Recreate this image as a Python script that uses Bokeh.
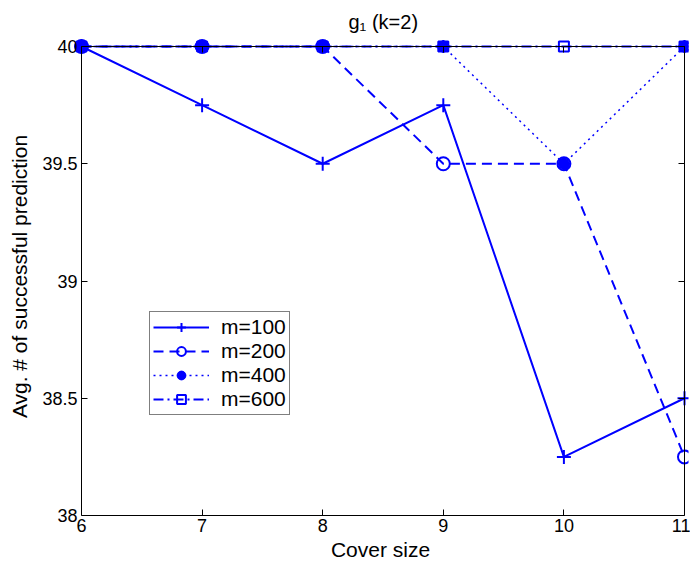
from bokeh.plotting import figure
from bokeh.models import LinearAxis, FixedTicker, Legend, LegendItem, Range1d
from bokeh.embed import file_html
from bokeh.resources import INLINE

cover_size = [6, 7, 8, 9, 10, 11]
m100 = [40, 39.75, 39.5, 39.75, 38.25, 38.5]
m200 = [40, 40, 40, 39.5, 39.5, 38.25]
m400 = [40, 40, 40, 40, 39.5, 40]
m600 = [40, 40, 40, 40, 40, 40]
x_ticks = [6, 7, 8, 9, 10, 11]
y_ticks = [38, 38.5, 39, 39.5, 40]
y_tick_labels = ["38", "38.5", "39", "39.5", "40"]
title_text = "g\u2081 (k=2)"

FONT = "Liberation Sans"
BLUE = "#0000ff"

# axes box in pixels and padding so that edge markers are not clipped
BOX_L, BOX_R, BOX_T, BOX_B = 81, 684, 46, 515
PAD_L, PAD_R, PAD_T = 9, 4, 9
TITLE_LEFT = 348
W, H = 690, 566
xmin, xmax = x_ticks[0], x_ticks[-1]
ymin, ymax = y_ticks[0], y_ticks[-1]
xpx = (BOX_R - BOX_L) / (xmax - xmin)
ypx = (BOX_B - BOX_T) / (ymax - ymin)

p = figure(width=W, height=H, output_backend="svg", toolbar_location=None,
           x_axis_location=None, y_axis_location=None,
           x_range=Range1d(xmin - PAD_L / xpx, xmax + PAD_R / xpx),
           y_range=Range1d(ymin, ymax + PAD_T / ypx),
           min_border_left=BOX_L - PAD_L, min_border_right=W - BOX_R - PAD_R,
           min_border_top=BOX_T - PAD_T, min_border_bottom=H - BOX_B)
p.title.text = title_text
p.title.align = "left"
p.title.offset = TITLE_LEFT - (BOX_L - PAD_L)
p.title.text_font = FONT
p.title.text_font_size = "20px"
p.title.text_font_style = "normal"
p.title.text_color = "black"
p.title.standoff = 10

p.xgrid.visible = False
p.ygrid.visible = False
p.outline_line_color = None
p.background_fill_color = "white"
p.border_fill_color = "white"


def style(ax):
    ax.axis_line_color = "black"
    ax.axis_line_width = 1
    ax.major_tick_in = 6
    ax.major_tick_out = 0
    ax.minor_tick_line_color = None
    ax.major_tick_line_color = "black"
    ax.major_label_text_font = FONT
    ax.major_label_text_font_size = "18px"
    ax.major_label_text_color = "black"
    ax.axis_label_text_font = FONT
    ax.axis_label_text_font_size = "21px"
    ax.axis_label_text_font_style = "normal"
    ax.axis_label_text_color = "black"
    ax.major_label_standoff = 3
    ax.axis_label_standoff = 3


def hide_labels(ax):
    ax.major_label_text_font_size = "1px"
    ax.major_label_text_color = None
    ax.major_label_standoff = 0
    ax.axis_label_standoff = 0


xaxis = LinearAxis(ticker=FixedTicker(ticks=x_ticks), bounds=(xmin, xmax), axis_label="Cover size")
style(xaxis)
p.add_layout(xaxis, "below")

# left: line and ticks at x = 6
yline = LinearAxis(ticker=FixedTicker(ticks=y_ticks), bounds=(ymin, ymax), fixed_location=xmin)
style(yline)
hide_labels(yline)
p.add_layout(yline, "left")

# left: tick labels and axis title
ylab = LinearAxis(ticker=FixedTicker(ticks=y_ticks), axis_label="Avg. # of successful prediction")
style(ylab)
ylab.axis_line_color = None
ylab.major_tick_line_color = None
ylab.major_tick_in = 0
ylab.major_label_standoff = -5
ylab.axis_label_standoff = 8
ylab.major_label_overrides = {t: l for t, l in zip(y_ticks, y_tick_labels)}
p.add_layout(ylab, "left")

top = LinearAxis(ticker=FixedTicker(ticks=x_ticks), bounds=(xmin, xmax), fixed_location=ymax)
right = LinearAxis(ticker=FixedTicker(ticks=y_ticks), bounds=(ymin, ymax), fixed_location=xmax)
for ax in (top, right):
    style(ax)
    hide_labels(ax)
p.add_layout(top, "above")
p.add_layout(right, "right")

items = []
l1 = p.line(cover_size, m100, line_color=BLUE, line_width=2)
g1 = p.scatter(cover_size, m100, marker="cross", size=14, line_color=BLUE, line_width=2)
items.append(LegendItem(label="m=100", renderers=[l1, g1]))

l2 = p.line(cover_size, m200, line_color=BLUE, line_width=2, line_dash="10 6")
g2 = p.scatter(cover_size, m200, marker="circle", size=13, line_color=BLUE, fill_color=None, line_width=2)
items.append(LegendItem(label="m=200", renderers=[l2, g2]))

l3 = p.line(cover_size, m400, line_color=BLUE, line_width=1.5, line_dash="2 4")
g3 = p.scatter(cover_size, m400, marker="circle", size=11, line_color=BLUE, fill_color=BLUE, line_width=1)
g3b = p.scatter(cover_size, m400, marker="asterisk", size=13, line_color=BLUE, line_width=2)
items.append(LegendItem(label="m=400", renderers=[l3, g3, g3b]))

l4 = p.line(cover_size, m600, line_color=BLUE, line_width=2, line_dash="10 4 2 4")
g4 = p.scatter(cover_size, m600, marker="square", size=10, line_color=BLUE, fill_color=None, line_width=2)
items.append(LegendItem(label="m=600", renderers=[l4, g4]))

legend = Legend(items=items)
legend.location = (149 - (BOX_L - PAD_L), BOX_B - 415)
legend.border_line_color = "black"
legend.border_line_width = 1
legend.background_fill_color = "white"
legend.background_fill_alpha = 1
legend.label_text_font = FONT
legend.label_text_font_size = "21px"
legend.label_text_color = "black"
legend.glyph_width = 56
legend.glyph_height = 22
legend.label_height = 22
legend.spacing = 0
legend.padding = 3
legend.margin = 0
legend.label_standoff = 12
p.add_layout(legend, "center")

open("out.html", "w").write(file_html(p, INLINE))
